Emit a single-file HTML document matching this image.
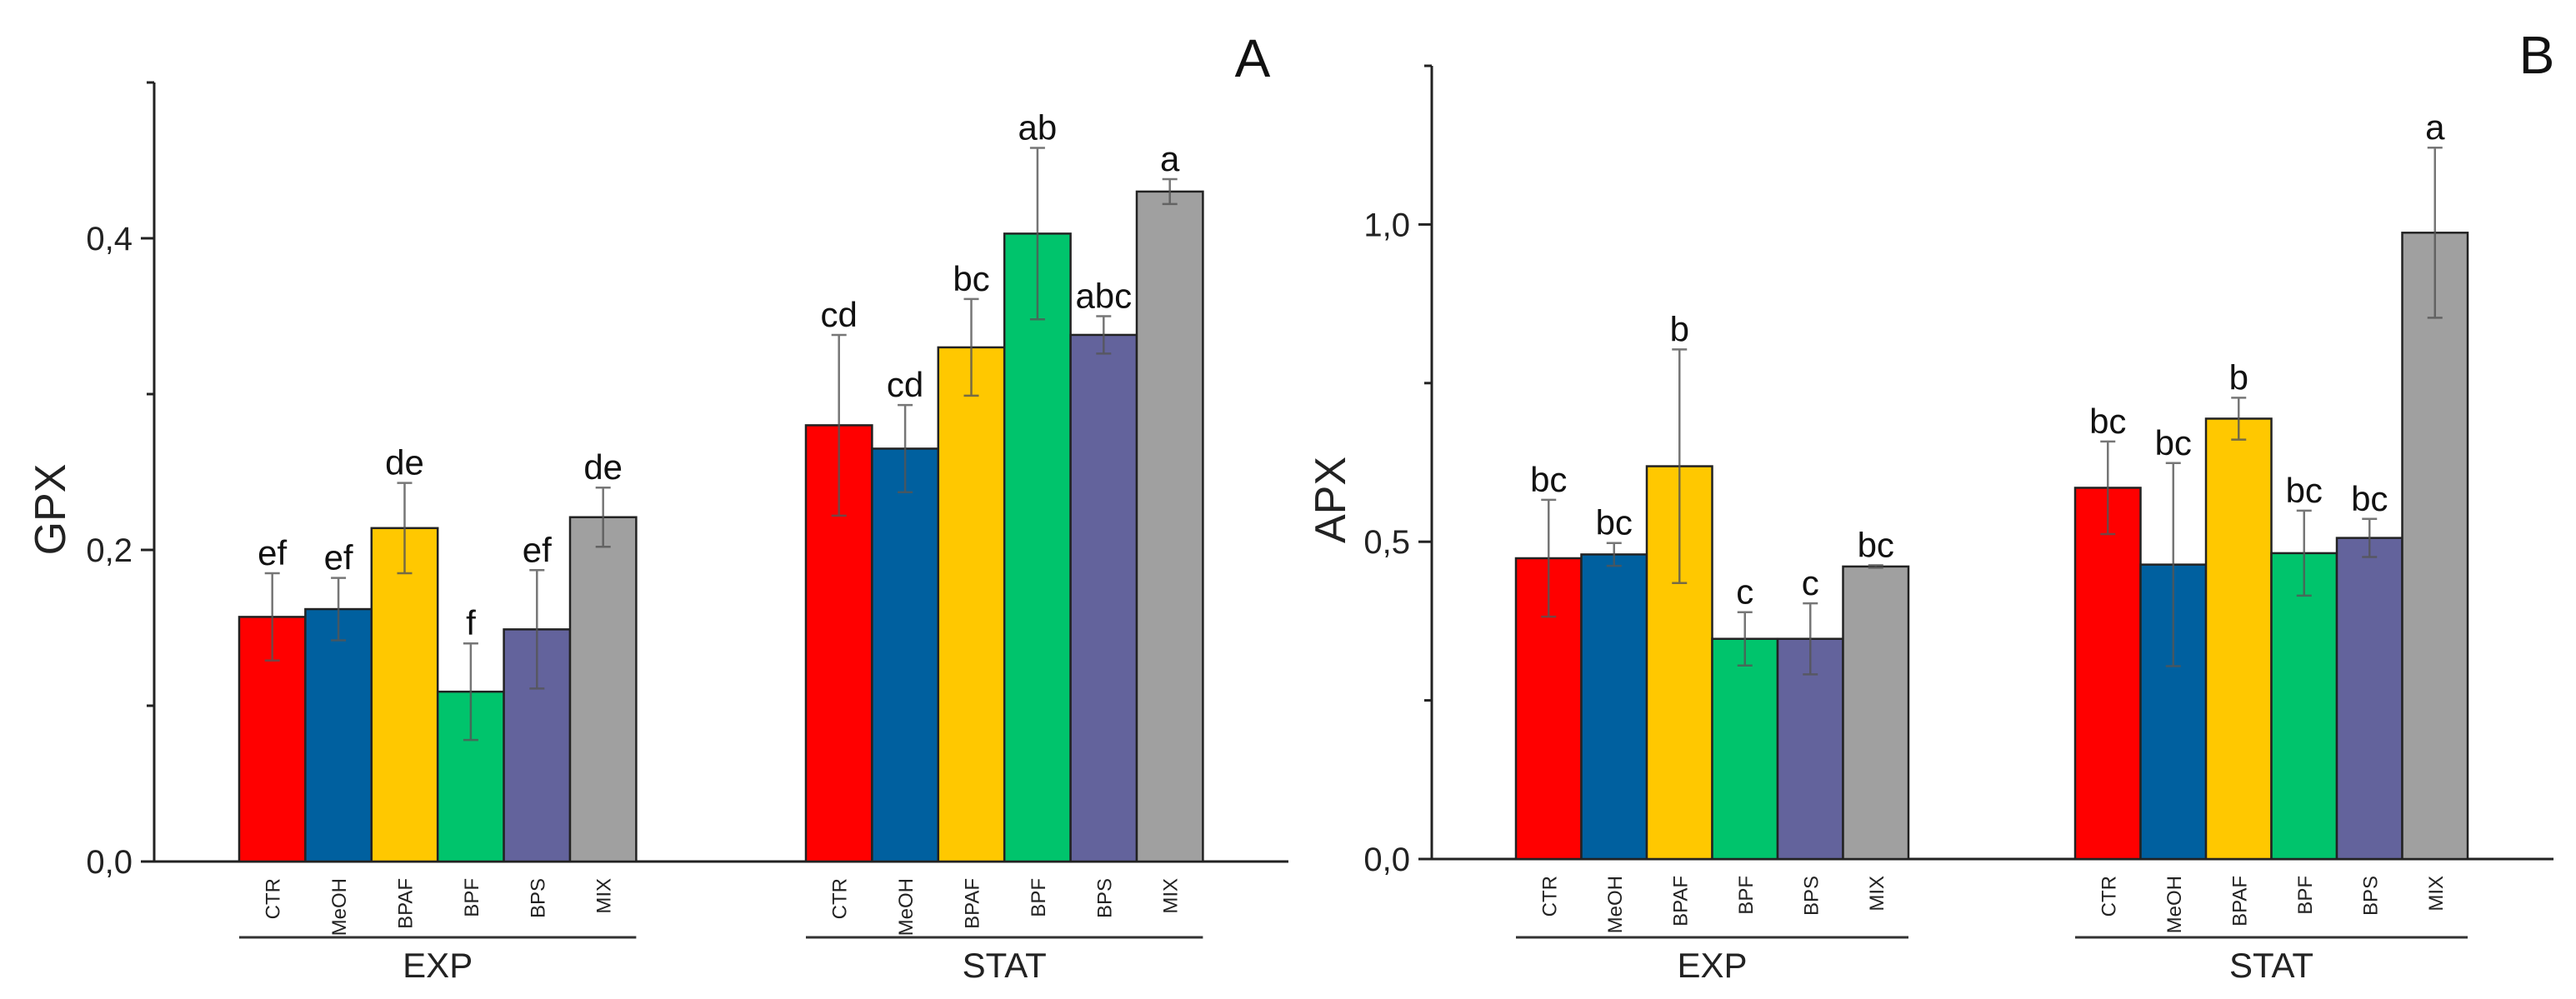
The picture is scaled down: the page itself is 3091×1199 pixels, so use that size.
<!DOCTYPE html>
<html><head><meta charset="utf-8"><style>
html,body{margin:0;padding:0;background:#fff;}
svg{display:block;font-family:"Liberation Sans",Arial,sans-serif;}
</style></head><body>
<svg id="chart" width="3091" height="1199" viewBox="0 0 3091 1199" xmlns="http://www.w3.org/2000/svg"></svg>
<script>
const categories = ["CTR","MeOH","BPAF","BPF","BPS","MIX"];
const groups = ["EXP","STAT"];
const colors = ["#ff0000","#00609f","#ffc800","#00c46c","#63639c","#a0a0a0"];
// Panel A (GPX)
const gpxExp = [0.157,0.162,0.214,0.109,0.149,0.221];
const gpxExpErr = [0.028,0.020,0.029,0.031,0.038,0.019];
const gpxExpLetters = ["ef","ef","de","f","ef","de"];
const gpxStat = [0.280,0.265,0.330,0.403,0.338,0.430];
const gpxStatErr = [0.058,0.028,0.031,0.055,0.012,0.008];
const gpxStatLetters = ["cd","cd","bc","ab","abc","a"];
const gpxTicks = ["0,0","0,2","0,4"];
// Panel B (APX)
const apxExp = [0.474,0.480,0.619,0.347,0.347,0.461];
const apxExpErr = [0.092,0.018,0.184,0.042,0.056,0.002];
const apxExpLetters = ["bc","bc","b","c","c","bc"];
const apxStat = [0.585,0.464,0.694,0.482,0.506,0.987];
const apxStatErr = [0.073,0.160,0.033,0.067,0.030,0.134];
const apxStatLetters = ["bc","bc","b","bc","bc","a"];
const apxTicks = ["0,0","0,5","1,0"];

const svg = document.getElementById('chart');
const NS = "http://www.w3.org/2000/svg";
function el(tag, attrs, parent){
  const e = document.createElementNS(NS, tag);
  for (const k in attrs) e.setAttribute(k, attrs[k]);
  (parent||svg).appendChild(e);
  return e;
}
function panel(cfg){
  const g = el('g', {});
  
  
  const y = v => cfg.y0 - (v/cfg.ymax)*(cfg.y0-cfg.ytop);
  // y axis
  const ya = el('line',{x1:cfg.ax,y1:cfg.ytop,x2:cfg.ax,y2:cfg.y0,stroke:'#222','stroke-width':3},g);
  
  
  const xa = el('line',{x1:cfg.ax-16,y1:cfg.y0,x2:cfg.xend,y2:cfg.y0,stroke:'#222','stroke-width':3},g);
  
  
  // ticks
  const n = cfg.ticks.length;
  for (let i=0;i<n;i++){
    const v = i*cfg.step;
    const t = el('line',{x1:cfg.ax-16,y1:y(v),x2:cfg.ax,y2:y(v),stroke:'#222','stroke-width':3},g);
    
    
    const lb = el('text',{x:cfg.ax-26,y:y(v)+14,'text-anchor':'end','font-size':40,fill:'#222'},g);
    lb.textContent = cfg.ticks[i];
    
    
    if (i < n-1 || v+cfg.step/2 <= cfg.ymax){
      const m = el('line',{x1:cfg.ax-9,y1:y(v+cfg.step/2),x2:cfg.ax,y2:y(v+cfg.step/2),stroke:'#222','stroke-width':3},g);
      
      
    }
  }
  const yt = el('text',{x:0,y:0,'text-anchor':'middle','font-size':52,fill:'#222',transform:`translate(${cfg.ax-(cfg.name==='panel-a'?107:104)},${(cfg.ytop+cfg.y0)/2+45}) rotate(-90)`},g);
  yt.textContent = cfg.title;
  
  
  const pl = el('text',{x:cfg.labX,y:cfg.labY,'text-anchor':'middle','font-size':64,fill:'#111'},g);
  pl.textContent = cfg.panelLabel;
  
  
  cfg.series.forEach((s, gi) => {
    const x0 = cfg.gx[gi];
    for (let i=0;i<categories.length;i++){
      const bx = x0 + i*cfg.bw;
      const top = y(s.vals[i]);
      const r = el('rect',{x:bx,y:top,width:cfg.bw,height:cfg.y0-top,fill:colors[i],stroke:'#222','stroke-width':2.5},g);
      
      
      const cx = bx + cfg.bw/2;
      const et = y(s.vals[i]+s.err[i]), eb = y(s.vals[i]-s.err[i]);
      const eg = el('g',{stroke:'#555','stroke-width':2.5,opacity:0.8},g);
      
      
      el('line',{x1:cx,y1:et,x2:cx,y2:eb},eg);
      el('line',{x1:cx-9,y1:et,x2:cx+9,y2:et},eg);
      el('line',{x1:cx-9,y1:eb,x2:cx+9,y2:eb},eg);
      const lt = el('text',{x:cx,y:et-10,'text-anchor':'middle','font-size':42,fill:'#111'},g);
      lt.textContent = s.letters[i];
      
      
      const cl = el('text',{x:0,y:0,'text-anchor':'end','font-size':24,fill:'#222',transform:`translate(${cx+9},${cfg.y0+20}) rotate(-90)`},g);
      cl.textContent = categories[i];
      
      
    }
    const gl = el('line',{x1:x0,y1:1125,x2:x0+6*cfg.bw,y2:1125,stroke:'#333','stroke-width':3},g);
    
    
    const gt = el('text',{x:x0+3*cfg.bw,y:1173,'text-anchor':'middle','font-size':42,fill:'#222'},g);
    gt.textContent = groups[gi];
    
    
  });
}
panel({name:'panel-a',title:'GPX',panelLabel:'A',labX:1503,labY:92,ax:185,ytop:99,y0:1034,ymax:0.5,step:0.2,ticks:gpxTicks,xend:1546,bw:79.4,gx:[287,967],
  series:[{vals:gpxExp,err:gpxExpErr,letters:gpxExpLetters},{vals:gpxStat,err:gpxStatErr,letters:gpxStatLetters}]});
panel({name:'panel-b',title:'APX',panelLabel:'B',labX:3044,labY:88,ax:1718,ytop:79,y0:1031,ymax:1.25,step:0.5,ticks:apxTicks,xend:3064,bw:78.5,gx:[1819,2490],
  series:[{vals:apxExp,err:apxExpErr,letters:apxExpLetters},{vals:apxStat,err:apxStatErr,letters:apxStatLetters}]});
</script>
</body></html>
